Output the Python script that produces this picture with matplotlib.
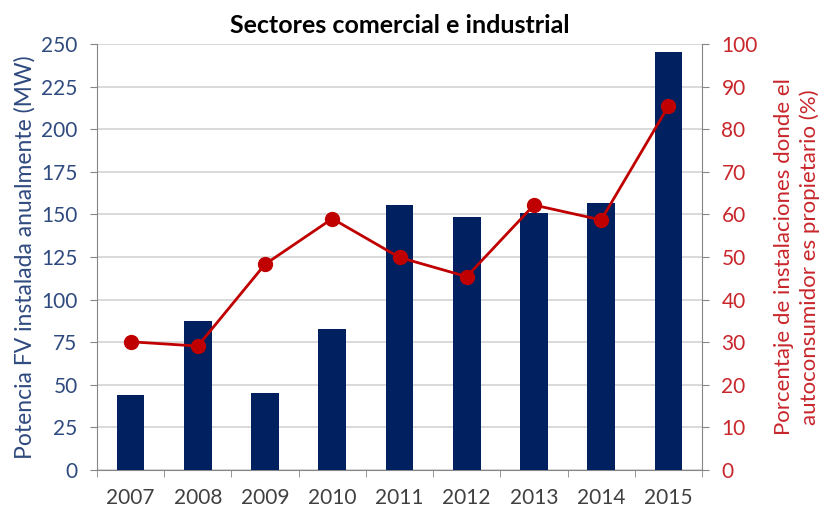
import matplotlib
matplotlib.use("Agg")
import matplotlib.pyplot as plt
import numpy as np

years = ["2007", "2008", "2009", "2010", "2011", "2012", "2013", "2014", "2015"]
potencia_mw = [44, 87.5, 45, 83, 155.5, 148.5, 151, 156.5, 245.5]
porcentaje = [30.1, 29.1, 48.3, 59.0, 49.9, 45.4, 62.2, 58.7, 85.4]

plt.rcParams['font.family'] = ['Lato', 'DejaVu Sans']

fig = plt.figure(figsize=(8.27, 5.17), dpi=100)
ax = fig.add_axes([97/827, 47/517, (702-97)/827, (470-44)/517])
ax2 = ax.twinx()

x = np.arange(len(years))
ax.bar(x, potencia_mw, width=0.41, color="#002060", zorder=3)
ax.set_xlim(-0.5, len(years) - 0.5)
ax.set_ylim(0, 250)
ax.set_yticks(np.arange(0, 251, 25))
ax.grid(axis='y', color="#D9D9D9", linewidth=1.4, zorder=0)
ax.set_axisbelow(True)

ax2.plot(x, porcentaje, color="#C00000", linewidth=2, marker='o', markersize=10, zorder=4)
ax2.set_ylim(0, 100)
ax2.set_yticks(np.arange(0, 101, 10))

ax.set_xticks(x)
ax.set_xticklabels(years)
ax.set_xticks(np.arange(-0.5, len(years), 1), minor=True)
ax.tick_params(axis='x', which='major', length=0, pad=13, labelsize=15, labelcolor="#404040")
ax.tick_params(axis='x', which='minor', length=5, color="#868686", direction='out')
ax.tick_params(axis='y', length=5, color="#868686", labelsize=15, labelcolor="#2F4A7F", pad=9)
ax2.tick_params(axis='y', length=5, color="#868686", labelsize=15, labelcolor="#C8262B", pad=9)

for a in (ax, ax2):
    a.spines["top"].set_visible(False)
    a.spines["left"].set_color("#868686")
    a.spines["right"].set_color("#868686")
    a.spines["bottom"].set_color("#868686")
ax2.spines["left"].set_visible(False)
ax2.spines["bottom"].set_visible(False)
ax.spines["right"].set_visible(False)

ax.set_ylabel("Potencia FV instalada anualmente (MW)", color="#2F4A7F", fontsize=16.5, labelpad=4)
ax2.set_ylabel("Porcentaje de instalaciones donde el\nautoconsumidor es propietario (%)",
               color="#C8262B", fontsize=16, labelpad=12, rotation=90, linespacing=1.3)
ax2.yaxis.set_label_position("right")

ax.set_title("Sectores comercial e industrial", fontsize=18, fontweight='bold', color="#000000", pad=8)

fig.savefig("out.png", dpi=100)
